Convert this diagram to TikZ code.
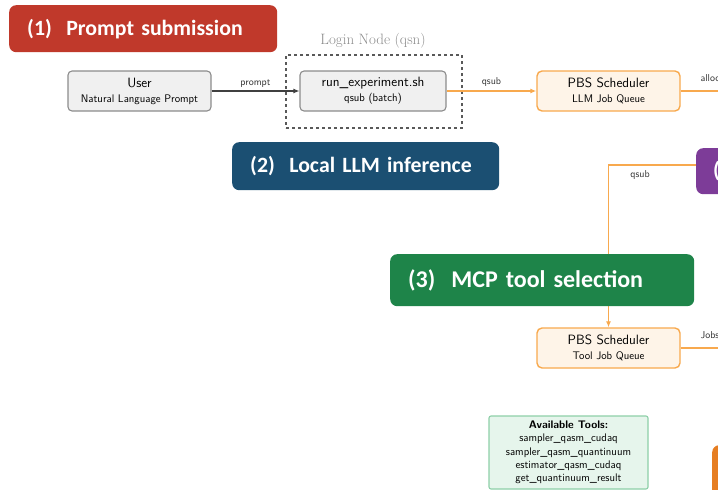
\documentclass[tikz,border=0pt]{standalone}
\usepackage{fontspec}
\newfontfamily\banfont{Carlito}
\usetikzlibrary{arrows.meta}
\definecolor{cred}{HTML}{C0392B}
\definecolor{cblue}{HTML}{1B4F72}
\definecolor{cgreen}{HTML}{1E8449}
\definecolor{cpurple}{HTML}{7D3C98}
\definecolor{cdorange}{HTML}{E67E22}
\definecolor{corange}{HTML}{F8A94E}
\definecolor{corangefill}{HTML}{FEF4E8}
\definecolor{cgrayfill}{HTML}{F0F0F0}
\definecolor{cgrayline}{HTML}{8C8C8C}
\definecolor{ctoolfill}{HTML}{E6F5EC}
\definecolor{ctoolline}{HTML}{8DCFA8}
\tikzset{
  banner/.style={rounded corners=7pt, text=white, inner xsep=18pt, align=left, font=\banfont\bfseries},
  graybox/.style={draw=cgrayline, fill=cgrayfill, line width=1.1pt, rounded corners=4pt, align=center, font=\sffamily},
  pbsbox/.style={draw=corange, fill=corangefill, line width=1.4pt, rounded corners=5pt, align=center, font=\sffamily},
  elabel/.style={font=\sffamily\fontsize{10}{12}\selectfont, text=black!80},
  blackarrow/.style={draw=black!75, line width=1.1pt, -{Latex[length=6pt,width=5pt]}},
  orangearrow/.style={draw=corange, line width=1.6pt, -{Latex[length=6pt,width=5pt]}},
  orangeline/.style={draw=corange, line width=1.6pt},
}
\newcommand{\mainline}[1]{{\fontsize{13.5}{15}\selectfont #1}}
\newcommand{\subline}[1]{{\fontsize{11}{13}\selectfont #1}}
\begin{document}
\begin{tikzpicture}[x=1pt,y=-1pt]
\useasboundingbox (0,0) rectangle (718,490);
\clip (0,0) rectangle (718,490);

% boxes
\node[graybox, minimum width=143pt, minimum height=40pt, inner ysep=1pt] (user) at (139.5,91)
  {\mainline{User}\\[3pt]\subline{Natural Language Prompt}};
\node[draw=black!65, dashed, line width=1.1pt, minimum width=176pt, minimum height=73pt] (login) at (374,91.5) {};
\node[font=\fontsize{15}{17}\selectfont, text=black!45] (loginlbl) at (373,41) {Login Node (qsn)};
\node[graybox, minimum width=146pt, minimum height=40pt, inner ysep=1pt] (run) at (373,91)
  {\mainline{run\_experiment.sh}\\[3pt]\subline{qsub (batch)}};
\node[pbsbox, minimum width=143pt, minimum height=40pt, inner ysep=1pt] (pbs1) at (608.5,91)
  {\mainline{PBS Scheduler}\\[3pt]\subline{LLM Job Queue}};
\node[pbsbox, minimum width=143pt, minimum height=40pt, inner ysep=1pt] (pbs2) at (608.5,348)
  {\mainline{PBS Scheduler}\\[3pt]\subline{Tool Job Queue}};
\node[draw=ctoolline, fill=ctoolfill, line width=1.1pt, rounded corners=2pt, minimum width=159pt, minimum height=73pt, inner ysep=1pt, align=center, font=\sffamily\fontsize{11}{13.2}\selectfont] (tools) at (568.5,452.5)
  {\textbf{Available Tools:}\\sampler\_qasm\_cudaq\\sampler\_qasm\_quantinuum\\estimator\_qasm\_cudaq\\get\_quantinuum\_result};

\node[fill=cpurple, rounded corners=7pt, minimum width=80pt, minimum height=46pt, anchor=north west, text=white, font=\banfont\bfseries\fontsize{21.8}{24}\selectfont, align=left, text width=50pt, inner xsep=17pt] (p4) at (696,148) {(4)};
\node[fill=cdorange, rounded corners=7pt, minimum width=60pt, minimum height=60pt, anchor=north west] (o5) at (712,445) {};

\coordinate (out1) at (760,91);
\coordinate (out2) at (760,348);

% connectors
\draw[blackarrow] (user.east) -- node[elabel, above] {prompt} (run.west);
\draw[orangearrow] (run.east) -- node[elabel, above] {qsub} (pbs1.west);
\draw[orangeline] (pbs1.east) -- (out1);
\node[elabel, anchor=south west] (alloclbl) at (697,85) {allocate};
\draw[orangearrow] ([yshift=6pt]p4.west) -| node[elabel, pos=0.32, below=1pt] {qsub} (pbs2.north);
\draw[orangeline] (pbs2.east) -- (out2);
\node[elabel, anchor=south west] (joblbl) at (697,342) {Jobs};

% banners
\node[banner, fill=cred, text width=232pt, minimum height=47pt, anchor=north west, font=\banfont\bfseries\fontsize{21.8}{24}\selectfont] (b1) at (9,5) {(1)\ \ Prompt submission};
\node[banner, fill=cblue, text width=231pt, minimum height=48pt, anchor=north west, font=\banfont\bfseries\fontsize{21.8}{24}\selectfont] (b2) at (232,142) {(2)\ \ Local LLM inference};
\node[banner, fill=cgreen, text width=268pt, minimum height=52pt, anchor=north west, font=\banfont\bfseries\fontsize{24}{27}\selectfont] (b3) at (390,254) {(3)\ \ MCP tool selection};
\end{tikzpicture}
\end{document}
